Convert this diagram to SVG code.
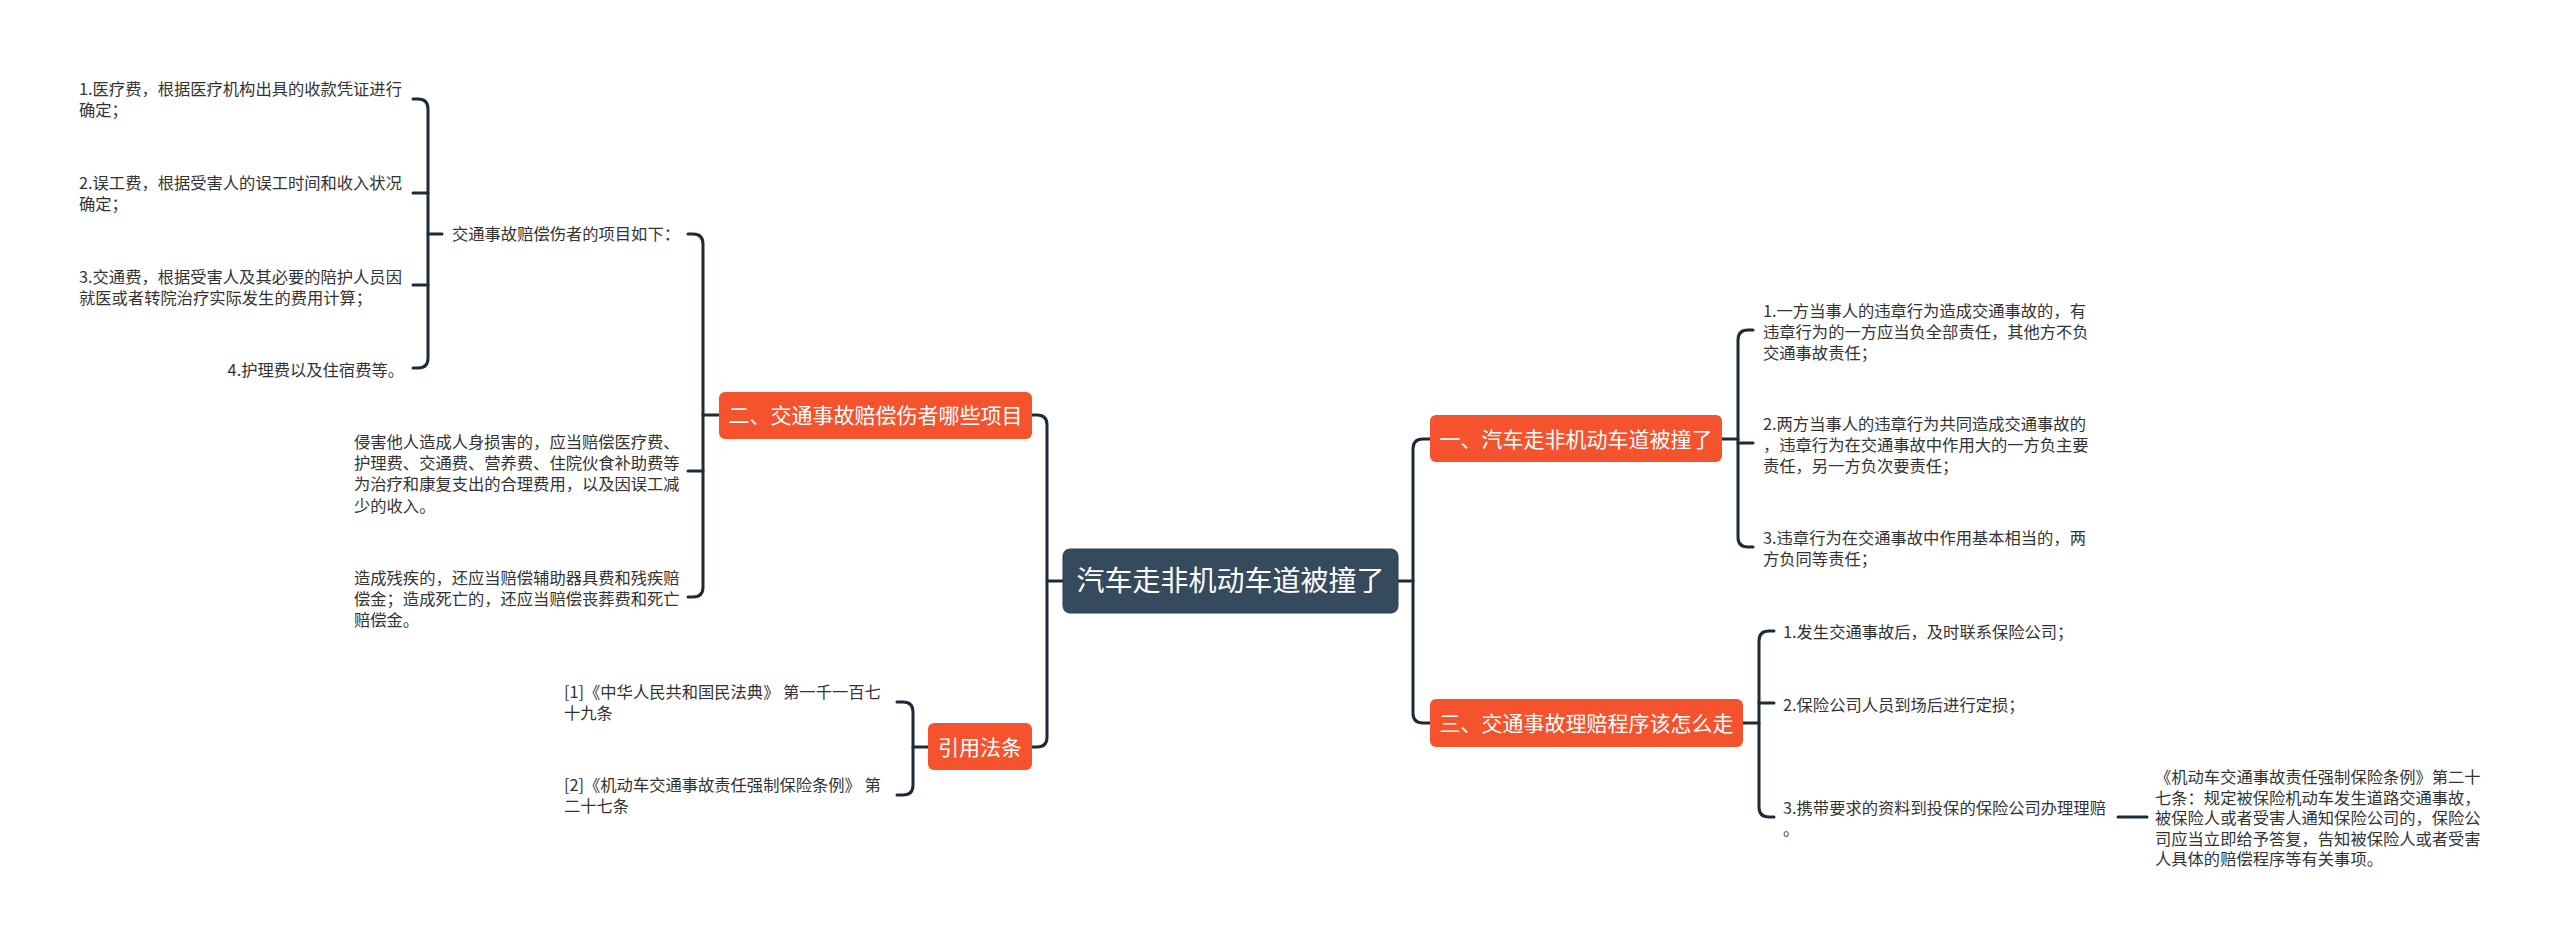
<svg xmlns="http://www.w3.org/2000/svg" width="2560" height="947" viewBox="0 0 2560 947">
<style>
text{font-family:"Noto Sans CJK SC","Liberation Sans",sans-serif;}
.leaf{font-size:16.3px;fill:#333333;}
.br{font-size:21px;fill:#ffffff;text-anchor:middle;}
.rt{font-size:28px;fill:#ffffff;text-anchor:middle;}
.ob{fill:#f4532d;}
.cn path{fill:none;stroke:#1d2a38;stroke-width:3;stroke-linecap:round;stroke-linejoin:round;}
</style>
<rect width="2560" height="947" fill="#ffffff"/>
<g class="cn" id="connectors">
<path d="M413,99 H418 Q428,99 428,109 V358 Q428,368 418,368 H413"/>
<path d="M413,193 H428"/>
<path d="M413,285 H428"/>
<path d="M428,234 H442"/>
<path d="M688,234 H693 Q703,234 703,244 V587 Q703,597 693,597 H688"/>
<path d="M703,415 H719"/>
<path d="M688,471 H703"/>
<path d="M1032,415 H1037 Q1047,415 1047,425 V737 Q1047,747 1037,747 H1032"/>
<path d="M1047,581 H1063"/>
<path d="M1398,581 H1413"/>
<path d="M1430,439 H1423 Q1413,439 1413,449 V713 Q1413,723 1423,723 H1430"/>
<path d="M1722,439 H1738"/>
<path d="M1753,330 H1748 Q1738,330 1738,340 V537 Q1738,547 1748,547 H1753"/>
<path d="M1738,443 H1753"/>
<path d="M1743,723 H1759"/>
<path d="M1774,631 H1769 Q1759,631 1759,641 V807 Q1759,817 1769,817 H1774"/>
<path d="M1759,703 H1774"/>
<path d="M2118,817 H2147"/>
<path d="M928,747 H913"/>
<path d="M897,702 H903 Q913,702 913,712 V785 Q913,795 903,795 H897"/>
</g>
<g id="root">
<rect x="1063" y="549" width="335" height="64" rx="7" fill="#364a5d" stroke="#2a3a4a" stroke-width="1"/>
<text class="rt" x="1230.5" y="591">汽车走非机动车道被撞了</text>
</g>
<g id="n1">
<rect class="ob" x="1430" y="415" width="292" height="47" rx="6"/>
<text class="br" x="1576" y="446.5">一、汽车走非机动车道被撞了</text>
</g>
<g id="n1-1">
<text class="leaf" x="1763" y="317"><tspan x="1763">1.一方当事人的违章行为造成交通事故的，有</tspan><tspan x="1763" dy="20.8">违章行为的一方应当负全部责任，其他方不负</tspan><tspan x="1763" dy="20.8">交通事故责任；</tspan></text>
</g>
<g id="n1-2">
<text class="leaf" x="1763" y="430"><tspan x="1763">2.两方当事人的违章行为共同造成交通事故的</tspan><tspan x="1763" dy="20.8">，违章行为在交通事故中作用大的一方负主要</tspan><tspan x="1763" dy="20.8">责任，另一方负次要责任；</tspan></text>
</g>
<g id="n1-3">
<text class="leaf" x="1763" y="544"><tspan x="1763">3.违章行为在交通事故中作用基本相当的，两</tspan><tspan x="1763" dy="20.8">方负同等责任；</tspan></text>
</g>
<g id="n3">
<rect class="ob" x="1430" y="699" width="313" height="48" rx="6"/>
<text class="br" x="1586.5" y="730.5">三、交通事故理赔程序该怎么走</text>
</g>
<g id="n3-1">
<text class="leaf" x="1783" y="638">1.发生交通事故后，及时联系保险公司；</text>
</g>
<g id="n3-2">
<text class="leaf" x="1783" y="711">2.保险公司人员到场后进行定损；</text>
</g>
<g id="n3-3">
<text class="leaf" x="1783" y="814"><tspan x="1783">3.携带要求的资料到投保的保险公司办理理赔</tspan><tspan x="1783" dy="20.8">。</tspan></text>
</g>
<g id="n3-3-1">
<text class="leaf" x="2155" y="783"><tspan x="2155">《机动车交通事故责任强制保险条例》第二十</tspan><tspan x="2155" dy="20.6">七条：规定被保险机动车发生道路交通事故，</tspan><tspan x="2155" dy="20.6">被保险人或者受害人通知保险公司的，保险公</tspan><tspan x="2155" dy="20.6">司应当立即给予答复，告知被保险人或者受害</tspan><tspan x="2155" dy="20.6">人具体的赔偿程序等有关事项。</tspan></text>
</g>
<g id="n2">
<rect class="ob" x="719" y="392" width="313" height="47" rx="6"/>
<text class="br" x="875.5" y="422.5">二、交通事故赔偿伤者哪些项目</text>
</g>
<g id="n2-1">
<text class="leaf" x="452" y="240">交通事故赔偿伤者的项目如下：</text>
</g>
<g id="n2-1-1">
<text class="leaf" x="79" y="95"><tspan x="79">1.医疗费，根据医疗机构出具的收款凭证进行</tspan><tspan x="79" dy="20.8">确定；</tspan></text>
</g>
<g id="n2-1-2">
<text class="leaf" x="79" y="189"><tspan x="79">2.误工费，根据受害人的误工时间和收入状况</tspan><tspan x="79" dy="20.8">确定；</tspan></text>
</g>
<g id="n2-1-3">
<text class="leaf" x="79" y="283"><tspan x="79">3.交通费，根据受害人及其必要的陪护人员因</tspan><tspan x="79" dy="20.8">就医或者转院治疗实际发生的费用计算；</tspan></text>
</g>
<g id="n2-1-4">
<text class="leaf" x="404" y="376" text-anchor="end">4.护理费以及住宿费等。</text>
</g>
<g id="n2-2">
<text class="leaf" x="354" y="448"><tspan x="354">侵害他人造成人身损害的，应当赔偿医疗费、</tspan><tspan x="354" dy="21.2">护理费、交通费、营养费、住院伙食补助费等</tspan><tspan x="354" dy="21.2">为治疗和康复支出的合理费用，以及因误工减</tspan><tspan x="354" dy="21.2">少的收入。</tspan></text>
</g>
<g id="n2-3">
<text class="leaf" x="354" y="584"><tspan x="354">造成残疾的，还应当赔偿辅助器具费和残疾赔</tspan><tspan x="354" dy="20.8">偿金；造成死亡的，还应当赔偿丧葬费和死亡</tspan><tspan x="354" dy="20.8">赔偿金。</tspan></text>
</g>
<g id="n4">
<rect class="ob" x="928" y="723" width="104" height="47" rx="6"/>
<text class="br" x="980" y="754.5">引用法条</text>
</g>
<g id="n4-1">
<text class="leaf" x="564" y="698"><tspan x="564">[1]《中华人民共和国民法典》 第一千一百七</tspan><tspan x="564" dy="20.8">十九条</tspan></text>
</g>
<g id="n4-2">
<text class="leaf" x="564" y="791"><tspan x="564">[2]《机动车交通事故责任强制保险条例》 第</tspan><tspan x="564" dy="20.8">二十七条</tspan></text>
</g>
</svg>
